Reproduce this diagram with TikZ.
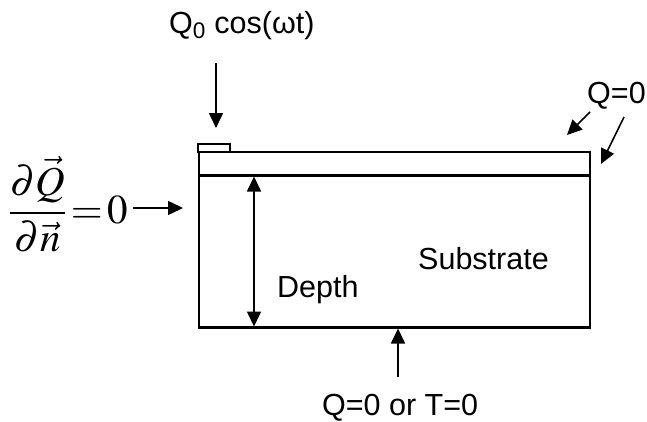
\documentclass[tikz,border=0pt]{standalone}
\usepackage{mathptmx}
\usepackage{fontspec}
\setmainfont{Liberation Sans}
\usetikzlibrary{arrows.meta}
\tikzset{
  lbl/.style={inner sep=0pt, font=\fontsize{30.5}{36}\selectfont},
  frame/.style={line width=2.2pt, line join=miter},
  tip/.tip={Triangle[length=15pt,width=14pt]},
  ptr/.style={line width=1.6pt, -tip},
  dptr/.style={line width=1.6pt, tip-tip}
}
\begin{document}
\begin{tikzpicture}[x=1pt,y=-1pt]
\useasboundingbox (0,0) rectangle (647,421);
% structure
\draw[line width=1.5pt] (198,144) rectangle (230,152);
\draw[frame] (199,152) rectangle (590,327.5);
\draw[frame] (199,175.5) -- (590,175.5);
% labels
\node[lbl, anchor=base west] (src) at (169,33) {Q\textsubscript{0} cos(ω{}t)};
\node[lbl, anchor=base west] (qz) at (587,103) {Q=0};
\node[lbl, anchor=base west] (depth) at (277,297) {Depth};
\node[lbl, anchor=base west] (sub) at (418,269) {Substrate};
\node[lbl, anchor=base west] (bot) at (322,415) {Q=0 or T=0};
\node[inner sep=0pt, anchor=base east, font=\fontsize{41}{48}\selectfont] (eq) at (128,223)
  {$\displaystyle\frac{\partial\vec{Q}}{\partial\vec{n}}\mskip-2mu=\mskip-2mu0$};
% arrow end points
\coordinate (t1) at (216,63);  \coordinate (t2) at (216,128);
\coordinate (l1) at (133,208); \coordinate (l2) at (183,208);
\coordinate (a1) at (590,112); \coordinate (a2) at (567,135);
\coordinate (b1) at (624,117); \coordinate (b2) at (601,164);
\coordinate (d1) at (254,176.5); \coordinate (d2) at (254,326.5);
\coordinate (u1) at (398,377); \coordinate (u2) at (398,328.5);
% arrows
\draw[ptr] (t1) -- (t2);
\draw[ptr] (l1) -- (l2);
\draw[ptr] (a1) -- (a2);
\draw[ptr] (b1) -- (b2);
\draw[dptr] (d1) -- (d2);
\draw[ptr] (u1) -- (u2);
\end{tikzpicture}
\end{document}
